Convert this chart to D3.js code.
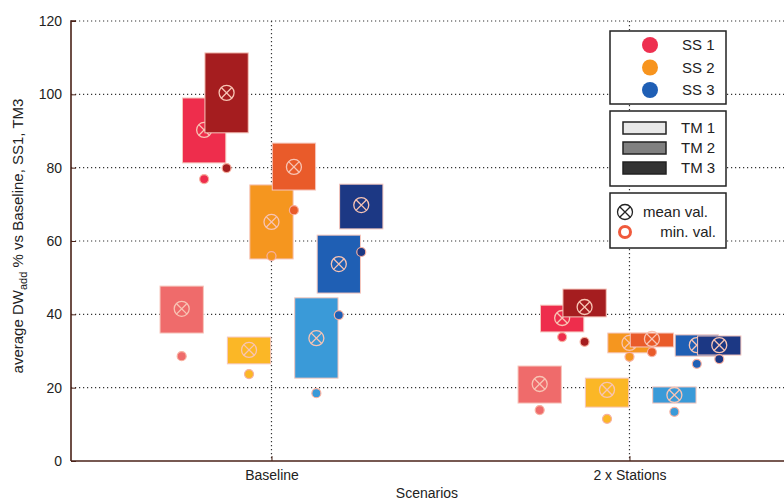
<!DOCTYPE html>
<html>
<head>
<meta charset="utf-8">
<script src="https://cdn.jsdelivr.net/npm/d3@7"></script>
<style>
  body { margin: 0; background: #fff; }
  text { font-family: "Liberation Sans", Arial, sans-serif; fill: #222; }
</style>
</head>
<body>
<svg id="chart" width="784" height="502"></svg>
<script>
// categories
var scenarios = ["Baseline", "2 x Stations"];
var seriesKeys = ["SS1 TM1", "SS1 TM2", "SS1 TM3", "SS2 TM1", "SS2 TM2", "SS2 TM3", "SS3 TM1", "SS3 TM2", "SS3 TM3"];
var seriesColors = ["#ef6b6b", "#ee2d4c", "#a51d1f", "#fbb726", "#f5961f", "#e95b2a", "#3a9ad8", "#1f5fb4", "#1c3884"];

// values per scenario (same order as seriesKeys)
var baseHigh = [47.7, 99.0, 111.3, 33.8, 75.3, 86.7, 44.5, 61.6, 75.5];
var baseLow  = [34.9, 81.3, 89.5, 26.5, 55.1, 73.9, 22.6, 45.8, 63.3];
var baseMean = [41.5, 90.3, 100.4, 30.3, 65.2, 80.2, 33.5, 53.7, 69.8];
var baseMin  = [28.6, 76.9, 79.9, 23.7, 55.9, 68.4, 18.5, 39.8, 57.0];

var stHigh = [25.9, 42.5, 46.9, 22.6, 34.9, 34.9, 20.2, 34.4, 34.1];
var stLow  = [15.8, 35.2, 39.3, 14.7, 29.5, 31.1, 15.8, 28.6, 28.9];
var stMean = [21.0, 39.0, 42.0, 19.4, 32.2, 33.3, 18.0, 31.6, 31.6];
var stMin  = [13.9, 33.8, 32.5, 11.5, 28.4, 29.7, 13.4, 26.5, 27.8];

var yTicks = [0, 20, 40, 60, 80, 100, 120];

var ssLabels = ["SS 1", "SS 2", "SS 3"];
var ssColors = ["#ee3050", "#f7941e", "#1f5fb5"];
var tmLabels = ["TM 1", "TM 2", "TM 3"];
var tmColors = ["#e8e8e8", "#808080", "#333333"];

var svg = d3.select("#chart");
var padL = 71, padR = 787, padT = 21, padB = 461;

var x = d3.scaleLinear().domain([0.44, 2.44]).range([padL, padR]);
var y = d3.scaleLinear().domain([0, 120]).range([padB, padT]);

var step = 0.0627, boxW = 0.121;

var rows = [];
[[baseHigh, baseLow, baseMean, baseMin], [stHigh, stLow, stMean, stMin]].forEach(function(s, si) {
	seriesKeys.forEach(function(k, i) {
		rows.push({
			key: k, color: seriesColors[i],
			cx: si + 1 + (i - 4) * step,
			hi: s[0][i], lo: s[1][i], mean: s[2][i], min: s[3][i]
		});
	});
});

// grid
svg.append("g").selectAll("line")
	.data(yTicks.slice(1))
	.enter().append("line")
	.attr("x1", padL).attr("x2", 784)
	.attr("y1", function(d) { return y(d); })
	.attr("y2", function(d) { return y(d); })
	.attr("stroke", "#333").attr("stroke-width", 1.2)
	.attr("stroke-dasharray", "1.2,2.8");

svg.append("g").selectAll("line")
	.data([1, 2])
	.enter().append("line")
	.attr("x1", function(d) { return x(d); })
	.attr("x2", function(d) { return x(d); })
	.attr("y1", padT).attr("y2", padB)
	.attr("stroke", "#333").attr("stroke-width", 1.2)
	.attr("stroke-dasharray", "1.2,2.8");

// axes
var yAxis = svg.append("g")
	.attr("transform", "translate(" + padL + ",0)")
	.call(d3.axisLeft(y).tickValues(yTicks).tickSize(-5).tickPadding(9));
var xAxis = svg.append("g")
	.attr("transform", "translate(0," + padB + ")")
	.call(d3.axisBottom(x).tickValues([1, 2]).tickSize(-5).tickPadding(9)
		.tickFormat(function(d) { return scenarios[d - 1]; }));

[yAxis, xAxis].forEach(function(a) {
	a.select(".domain").attr("stroke", "#4a2218").attr("stroke-width", 1.6);
	a.selectAll(".tick line").attr("stroke", "#4a2218");
	a.selectAll("text").style("font-size", "14px").attr("fill", "#222")
		.style("font-family", "'Liberation Sans', Arial, sans-serif");
});
yAxis.select(".domain").attr("d", "M0," + padB + "V" + padT + "h5");
xAxis.select(".domain").attr("d", "M" + padL + ",0H" + 784);

// marks
var g = svg.append("g").selectAll("g")
	.data(rows)
	.enter().append("g");

g.append("rect")
	.attr("x", function(d) { return x(d.cx - boxW / 2); })
	.attr("width", function(d) { return x(d.cx + boxW / 2) - x(d.cx - boxW / 2); })
	.attr("y", function(d) { return y(d.hi); })
	.attr("height", function(d) { return y(d.lo) - y(d.hi); })
	.attr("fill", function(d) { return d.color; })
	.attr("stroke", "#f6c6bc").attr("stroke-width", 1);

g.append("circle")
	.attr("cx", function(d) { return x(d.cx); })
	.attr("cy", function(d) { return y(d.min); })
	.attr("r", 4.5)
	.attr("fill", function(d) { return d.color; })
	.attr("stroke", "#f7b0a0").attr("stroke-width", 1.2);

function meanMark(sel, col) {
	sel.append("circle").attr("r", 7.5).attr("fill", "none").attr("stroke", col).attr("stroke-width", 1.3);
	sel.append("path").attr("d", "M-5.3,-5.3L5.3,5.3M-5.3,5.3L5.3,-5.3")
		.attr("stroke", col).attr("stroke-width", 1.3);
}
var mm = g.append("g")
	.attr("transform", function(d) { return "translate(" + x(d.cx) + "," + y(d.mean) + ")"; });
meanMark(mm, "#f8c4b4");

// axis titles
svg.append("text")
	.attr("x", 427).attr("y", 498)
	.attr("text-anchor", "middle").style("font-size", "14px")
	.text("Scenarios");

var yt = svg.append("text")
	.attr("transform", "translate(23,236) rotate(-90)")
	.attr("text-anchor", "middle").style("font-size", "15px");
yt.append("tspan").text("average DW");
yt.append("tspan").attr("dy", 4).style("font-size", "11px").text("add");
yt.append("tspan").attr("dy", -4).text(" % vs Baseline, SS1, TM3");

// legend
var lg = svg.append("g");
[[31, 73], [111, 75], [193, 55]].forEach(function(b) {
	lg.append("rect").attr("x", 610).attr("y", b[0]).attr("width", 116).attr("height", b[1])
		.attr("fill", "#fff").attr("stroke", "#222").attr("stroke-width", 1.5);
});

ssLabels.forEach(function(t, i) {
	var cy = 45 + i * 22.5;
	lg.append("circle").attr("cx", 650).attr("cy", cy).attr("r", 8).attr("fill", ssColors[i]);
	lg.append("text").attr("x", 682).attr("y", cy + 5).style("font-size", "15px").text(t);
});

tmLabels.forEach(function(t, i) {
	var ry = 122 + i * 20;
	lg.append("rect").attr("x", 623).attr("y", ry).attr("width", 43).attr("height", 12)
		.attr("fill", tmColors[i]).attr("stroke", "#222").attr("stroke-width", 1.5);
	lg.append("text").attr("x", 681).attr("y", ry + 11).style("font-size", "15px").text(t);
});

var lm = lg.append("g").attr("transform", "translate(625,212)");
meanMark(lm, "#222");
lg.append("text").attr("x", 643).attr("y", 217).style("font-size", "15px").text("mean val.");
lg.append("circle").attr("cx", 625).attr("cy", 232).attr("r", 5.5)
	.attr("fill", "none").attr("stroke", "#f05a3c").attr("stroke-width", 3);
lg.append("text").attr("x", 716).attr("y", 237).attr("text-anchor", "end")
	.style("font-size", "15px").text("min. val.");
</script>
</body>
</html>
